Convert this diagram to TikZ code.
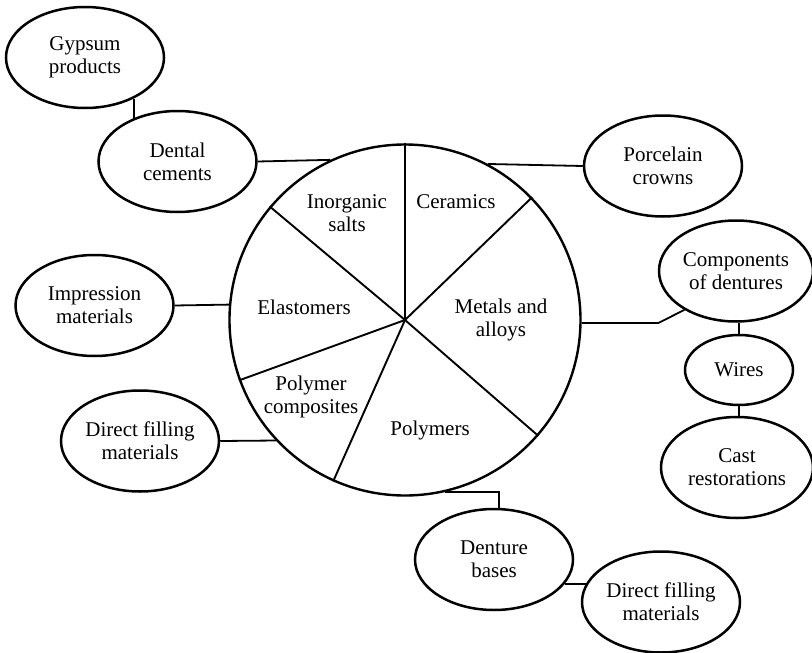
\documentclass[tikz,border=0pt]{standalone}
\usepackage{fontspec}
\setmainfont{Liberation Serif}
\usetikzlibrary{shapes.geometric}
\begin{document}
\begin{tikzpicture}[x=1pt,y=-1pt,
  bub/.style={ellipse,draw,line width=2.5pt,inner sep=0pt,minimum width=158pt,minimum height=101pt,align=center,font=\fontsize{21}{23}\selectfont},
  lab/.style={align=center,inner sep=0pt,font=\fontsize{21}{23}\selectfont},
  conn/.style={line width=1.8pt},
  spoke/.style={line width=1.9pt}]
\useasboundingbox (0,0) rectangle (812,653);
% central circle
\node[circle,draw,line width=2.4pt,minimum size=351pt,inner sep=0pt] (C) at (405,320) {};
\foreach \a in {90,44.2,-41,-114.3,200.6,140.3}
  \draw[spoke] (C.center) -- (C.\a);
% sector labels
\node[lab] (ls1) at (347,213) {Inorganic\\salts};
\node[lab] (ls2) at (456,202) {Ceramics};
\node[lab] (ls3) at (304,307) {Elastomers};
\node[lab] (ls4) at (501,320) {Metals and\\alloys};
\node[lab] (ls5) at (311,397) {Polymer\\composites};
\node[lab] (ls6) at (430,430) {Polymers};
% bubbles
\node[bub] (gyp) at (85,57.5) {Gypsum\\products};
\node[bub] (dent) at (177.5,161.5) {Dental\\cements};
\node[bub] (imp) at (94.5,305.5) {Impression\\materials};
\node[bub] (dfa) at (140,441) {Direct filling\\materials};
\node[bub] (por) at (663,166) {Porcelain\\crowns};
\node[bub,minimum width=154pt] (comp) at (736,271) {Components\\of dentures};
\node[bub,minimum width=108pt,minimum height=70pt] (wir) at (739,370) {Wires};
\node[bub,minimum width=152pt] (cast) at (737,467.5) {Cast\\restorations};
\node[bub] (dbase) at (494,559.5) {Denture\\bases};
\node[bub] (dfb) at (661,602) {Direct filling\\materials};
% connectors
\draw[conn] (gyp.-40) -- (gyp.-40 |- dent.140);
\draw[conn] (dent.east) -- (C.115.4);
\draw[conn] (imp.east) -- (C.175.3);
\draw[conn] (dfa.east) -- (C.223.6);
\draw[conn] (C.62) -- (por.west);
\draw[conn] (C.-1) -- ++(76.5,0) -- (comp.217.4);
\draw[conn] (wir.north) -- (wir.north |- comp.south);
\draw[conn] (wir.south) -- (wir.south |- cast.north);
\draw[conn] (C.-77) -| ([xshift=5pt]dbase.north);
\draw[conn] (dbase.-19) -- (dbase.-19 -| dfb.165.4);
\end{tikzpicture}
\end{document}
